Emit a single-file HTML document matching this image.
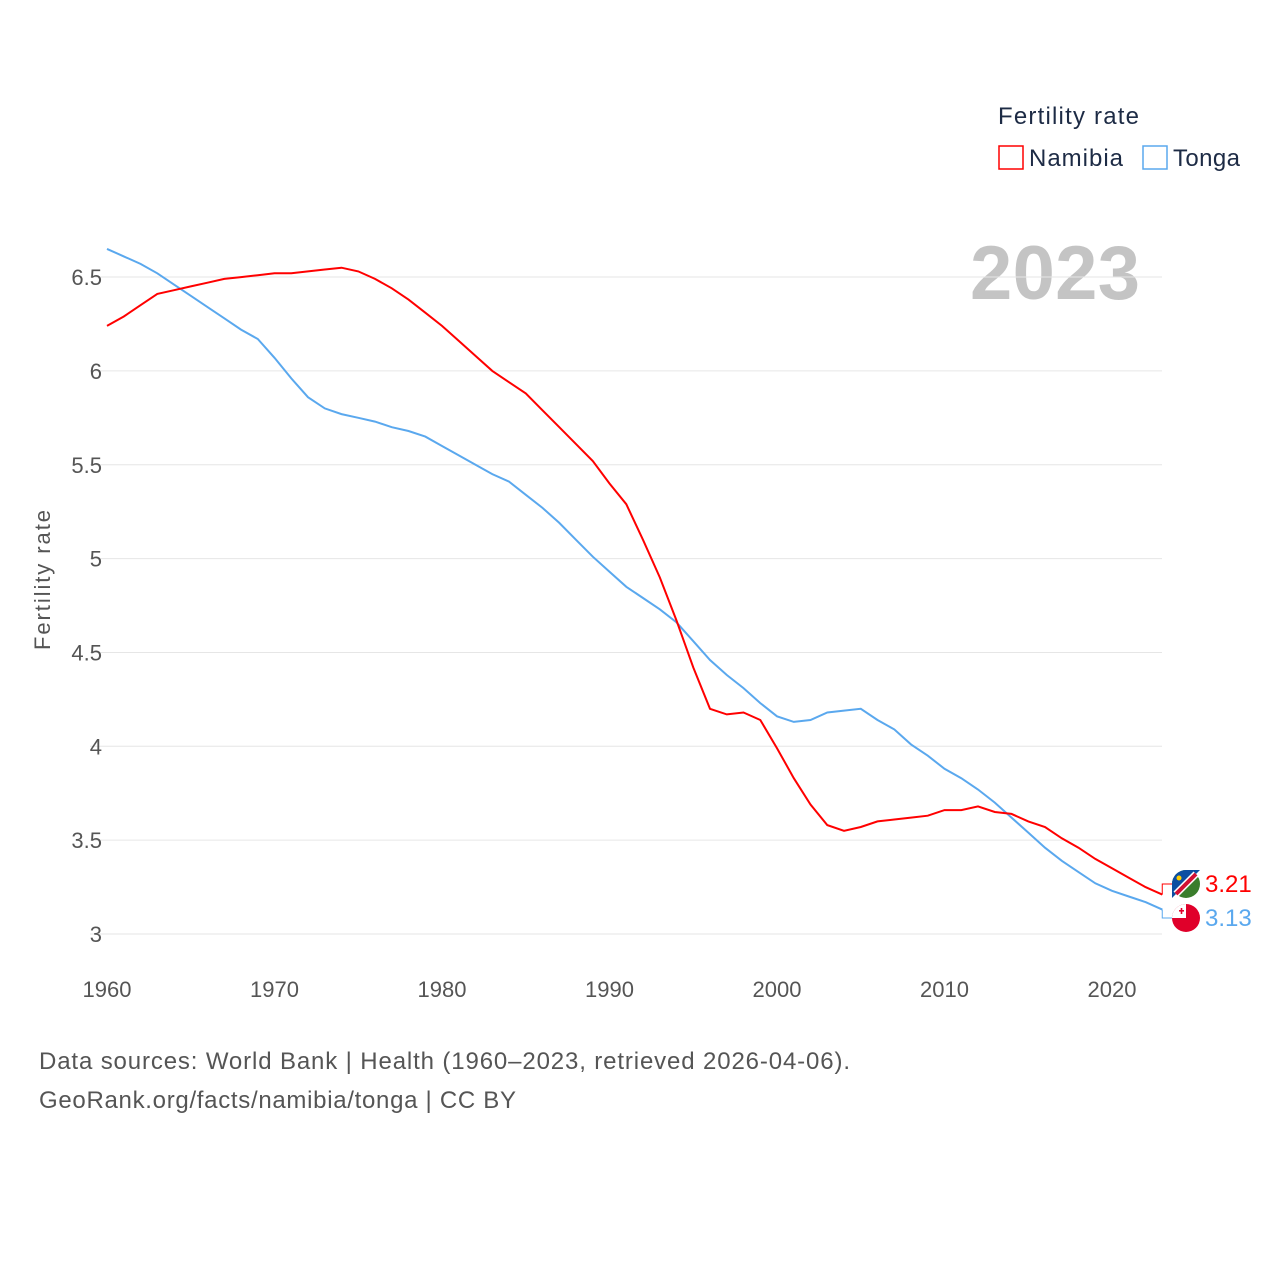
<!DOCTYPE html>
<html><head><meta charset="utf-8"><style>
body{margin:0;background:#fff;font-family:"Liberation Sans",sans-serif}
svg text{font-family:"Liberation Sans",sans-serif}
</style></head><body>
<svg id="chart" width="1280" height="1280">
<text x="998" y="124" font-size="24" fill="#1d2b45" textLength="141">Fertility rate</text>
<g><rect x="999" y="146" width="24" height="23" fill="none" stroke="#f00" stroke-width="1.5"/><text x="1029" y="166" font-size="24" fill="#1d2b45" textLength="94">Namibia</text></g>
<g><rect x="1143" y="146" width="24" height="23" fill="none" stroke="#5aa8ee" stroke-width="1.5"/><text x="1173" y="166" font-size="24" fill="#1d2b45" textLength="67">Tonga</text></g>
<text x="970" y="299" font-size="76" font-weight="bold" fill="#c4c4c4" textLength="170">2023</text>
<text transform="translate(50,580) rotate(-90)" font-size="22" fill="#555" text-anchor="middle" textLength="140">Fertility rate</text>
<g id="grid"></g><g id="lines"></g><g id="ends"></g>
<text x="39" y="1069" font-size="24" fill="#555" textLength="811">Data sources: World Bank | Health (1960–2023, retrieved 2026-04-06).</text>
<text x="39" y="1108" font-size="24" fill="#555" textLength="477">GeoRank.org/facts/namibia/tonga | CC BY</text>
</svg>
<script>
const years=[];for(let y=1960;y<=2023;y++)years.push(y);
const namibia=[6.24,6.29,6.35,6.41,6.43,6.45,6.47,6.49,6.50,6.51,6.52,6.52,6.53,6.54,6.55,6.53,6.49,6.44,6.38,6.31,6.24,6.16,6.08,6.00,5.94,5.88,5.79,5.70,5.61,5.52,5.40,5.29,5.10,4.90,4.67,4.42,4.20,4.17,4.18,4.14,3.99,3.83,3.69,3.58,3.55,3.57,3.60,3.61,3.62,3.63,3.66,3.66,3.68,3.65,3.64,3.60,3.57,3.51,3.46,3.40,3.35,3.30,3.25,3.21];
const tonga=[6.65,6.61,6.57,6.52,6.46,6.40,6.34,6.28,6.22,6.17,6.07,5.96,5.86,5.80,5.77,5.75,5.73,5.70,5.68,5.65,5.60,5.55,5.50,5.45,5.41,5.34,5.27,5.19,5.10,5.01,4.93,4.85,4.79,4.73,4.66,4.56,4.46,4.38,4.31,4.23,4.16,4.13,4.14,4.18,4.19,4.20,4.14,4.09,4.01,3.95,3.88,3.83,3.77,3.70,3.62,3.54,3.46,3.39,3.33,3.27,3.23,3.20,3.17,3.13];
const yTicks=[3,3.5,4,4.5,5,5.5,6,6.5];
const yTickLabels=["3","3.5","4","4.5","5","5.5","6","6.5"];
const xTicks=[1960,1970,1980,1990,2000,2010,2020];
const X=y=>107+(y-1960)*16.75;
const Y=v=>934-(v-3)*187.7;
const NS="http://www.w3.org/2000/svg";
function mk(tag,attrs,parent){const e=document.createElementNS(NS,tag);for(const k in attrs)e.setAttribute(k,attrs[k]);parent.appendChild(e);return e;}
const grid=document.getElementById('grid');
yTicks.forEach((v,i)=>{
 const l=mk('line',{x1:90,x2:1162,y1:Y(v),y2:Y(v),stroke:'#e6e6e6','stroke-width':1},grid);
 
 
 const t=mk('text',{x:102,y:Y(v)+8,'font-size':22,fill:'#555','text-anchor':'end'},grid);
 t.textContent=yTickLabels[i];
 
 
});
xTicks.forEach(v=>{
 const t=mk('text',{x:X(v),y:997,'font-size':22,fill:'#555','text-anchor':'middle'},grid);
 t.textContent=v;
 
 
});
const lines=document.getElementById('lines');
function series(vals,color,name){
 const p=mk('path',{d:vals.map((v,i)=>(i?'L':'M')+X(years[i]).toFixed(1)+','+Y(v).toFixed(1)).join(''),fill:'none',stroke:color,'stroke-width':2},lines);
 
 
}
series(tonga,'#5aa8ee','tonga-line');
series(namibia,'#ff0000','namibia-line');
const ends=document.getElementById('ends');
function end(vals,color,ly,name,flag){
 const last=vals[vals.length-1],x=X(2023),y=Y(last);
 mk('path',{d:`M${x},${y}L${x},${ly}L1172,${ly}`,fill:'none',stroke:color,'stroke-width':1},ends);
 const g=mk('g',{},ends);
 
 
 if(flag==='nam'){
  mk('circle',{cx:1186,cy:ly,r:14,fill:'#3a7d2c'},g);
  mk('path',{d:`M1172,${ly}A14,14 0 0 1 1186,${ly-14}L1200,${ly-14}L1172,${ly+14}Z`,fill:'#0b4ea2'},g);
  mk('line',{x1:1176,y1:ly+10,x2:1196,y2:ly-10,stroke:'#fff','stroke-width':7},g);
  mk('line',{x1:1176,y1:ly+10,x2:1196,y2:ly-10,stroke:'#d21034','stroke-width':4},g);
  mk('circle',{cx:1179,cy:ly-6,r:2.5,fill:'#ffce00'},g);
 } else {
  mk('circle',{cx:1186,cy:ly,r:14,fill:'#e0002a'},g);
  mk('path',{d:`M1172,${ly}A14,14 0 0 1 1186,${ly-14}L1186,${ly}Z`,fill:'#fff'},g);
  mk('rect',{x:1179,y:ly-8,width:5,height:1.6,fill:'#e0002a'},g);
  mk('rect',{x:1180.7,y:ly-10,width:1.6,height:6,fill:'#e0002a'},g);
 }
 const t=mk('text',{x:1205,y:ly+8,'font-size':24,fill:color},ends);
 t.textContent=last.toFixed(2);
 
 
}
end(namibia,'#ff0000',884,'namibia','nam');
end(tonga,'#5aa8ee',918,'tonga','ton');
</script>
</body></html>
